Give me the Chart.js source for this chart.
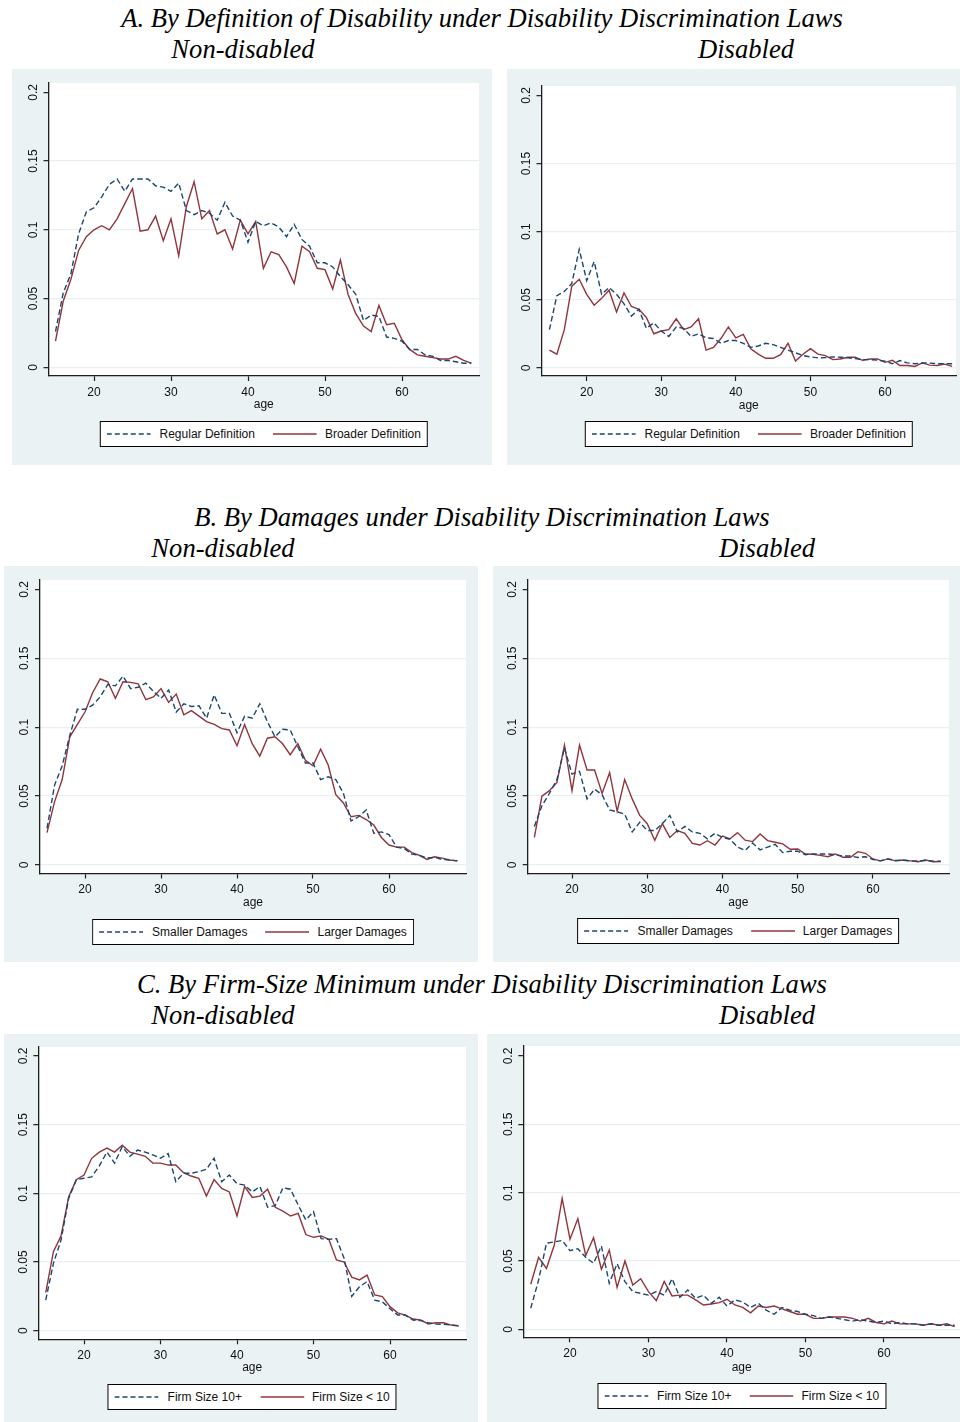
<!DOCTYPE html>
<html>
<head>
<meta charset="utf-8">
<script src="https://cdn.jsdelivr.net/npm/chart.js@4.4.1/dist/chart.umd.min.js"></script>
<style>
  html, body { margin: 0; padding: 0; background: #fff; }
  body { width: 960px; height: 1422px; position: relative; overflow: hidden; }
  .ttl { position: absolute; font-family: "Liberation Serif", "Times New Roman", serif; font-style: italic;
         font-size: 26.6px; line-height: 26px; white-space: nowrap; transform: translateX(-50%); color: #000; }
  canvas { position: absolute; }
  .leg { position: absolute; transform: translateX(-50%); border: 1.3px solid #000; background: #fff;
         display: flex; align-items: center; height: 26px; padding: 0 6px; box-sizing: border-box;
         font-family: "Liberation Sans", Arial, sans-serif; font-size: 12px; color: #111; white-space: nowrap; }
  .leg svg { display: block; }
  .leg .t1 { margin-left: 9px; }
  .leg .t2 { margin-left: 8px; }
  .leg .sp { width: 18px; }
</style>
</head>
<body>

<div class="ttl" style="left:482px; top:5px;">A. By Definition of Disability under Disability Discrimination Laws</div>
<div class="ttl" style="left:243px; top:36px;">Non-disabled</div>
<div class="ttl" style="left:746px; top:36px;">Disabled</div>

<div class="ttl" style="left:482px; top:504px;">B. By Damages under Disability Discrimination Laws</div>
<div class="ttl" style="left:223px; top:535px;">Non-disabled</div>
<div class="ttl" style="left:767px; top:535px;">Disabled</div>

<div class="ttl" style="left:482px; top:971px;">C. By Firm-Size Minimum under Disability Discrimination Laws</div>
<div class="ttl" style="left:223px; top:1002px;">Non-disabled</div>
<div class="ttl" style="left:767px; top:1002px;">Disabled</div>

<script>
// ---- age categories (x axis) ----
const ages = [15,16,17,18,19,20,21,22,23,24,25,26,27,28,29,30,31,32,33,34,35,36,37,38,39,40,41,42,
              43,44,45,46,47,48,49,50,51,52,53,54,55,56,57,58,59,60,61,62,63,64,65,66,67,68,69];

const xTicks = [20, 30, 40, 50, 60];
const yTicks = [0, 0.05, 0.1, 0.15, 0.2];
const yTickLabels = ['0', '0.05', '0.1', '0.15', '0.2'];

// ---- A. definition of disability ----
const aNonDisRegular = [0.026,0.054,0.068,0.097,0.113,0.116,0.124,0.133,0.137,0.128,
  0.137,0.137,0.137,0.132,0.131,0.128,0.134,0.114,0.111,0.114,
  0.112,0.107,0.120,0.110,0.107,0.091,0.106,0.103,0.105,0.102,
  0.095,0.104,0.093,0.088,0.076,0.076,0.073,0.066,0.060,0.053,
  0.034,0.038,0.037,0.022,0.021,0.019,0.013,0.013,0.009,0.008,
  0.005,0.005,0.004,0.003,0.003];
const aNonDisBroader = [0.019,0.048,0.064,0.085,0.095,0.100,0.103,0.100,0.108,0.119,
  0.130,0.099,0.100,0.110,0.092,0.108,0.081,0.117,0.135,0.108,
  0.114,0.097,0.100,0.086,0.107,0.097,0.106,0.072,0.084,0.082,
  0.073,0.061,0.088,0.084,0.072,0.071,0.057,0.078,0.053,0.039,
  0.030,0.026,0.045,0.031,0.032,0.020,0.013,0.009,0.008,0.007,
  0.006,0.006,0.008,0.005,0.003];
const aDisRegular = [0.028,0.053,0.056,0.062,0.087,0.064,0.078,0.054,0.059,0.054,
  0.047,0.038,0.043,0.029,0.033,0.027,0.023,0.030,0.029,0.023,
  0.025,0.022,0.0215,0.018,0.020,0.020,0.018,0.015,0.016,0.018,
  0.017,0.015,0.013,0.011,0.009,0.008,0.0073,0.0075,0.008,0.0078,
  0.0073,0.0068,0.006,0.006,0.0056,0.0048,0.003,0.0053,0.0036,0.003,
  0.0036,0.0034,0.003,0.003,0.003];
const aDisBroader = [0.013,0.010,0.028,0.060,0.065,0.054,0.046,0.051,0.057,0.041,
  0.055,0.045,0.043,0.037,0.025,0.027,0.028,0.036,0.028,0.030,
  0.036,0.013,0.015,0.0215,0.030,0.022,0.0245,0.014,0.010,0.007,
  0.007,0.0097,0.018,0.005,0.010,0.014,0.010,0.009,0.006,0.0065,
  0.0077,0.0077,0.0055,0.0065,0.0065,0.004,0.0055,0.0017,0.0017,0.001,
  0.0036,0.002,0.0017,0.0027,0.001];

// ---- B. damages ----
const bNonDisSmaller = [0.0266,0.058,0.072,0.094,0.113,0.113,0.116,0.122,0.131,0.130,
  0.137,0.128,0.129,0.132,0.126,0.121,0.127,0.111,0.117,0.115,
  0.1155,0.1065,0.1235,0.110,0.110,0.096,0.108,0.1065,0.117,0.104,
  0.093,0.0985,0.098,0.086,0.074,0.074,0.062,0.064,0.062,0.052,
  0.032,0.035,0.040,0.023,0.024,0.022,0.013,0.012,0.008,0.007,
  0.005,0.0056,0.004,0.0036,0.003];
const bNonDisLarger = [0.0235,0.046,0.062,0.093,0.102,0.111,0.125,0.135,0.133,0.121,
  0.133,0.1325,0.1315,0.120,0.122,0.128,0.118,0.124,0.109,0.112,
  0.108,0.104,0.102,0.099,0.098,0.0865,0.102,0.088,0.079,0.092,
  0.093,0.088,0.080,0.088,0.076,0.072,0.084,0.0726,0.051,0.045,
  0.035,0.036,0.033,0.029,0.020,0.0145,0.013,0.013,0.009,0.007,
  0.004,0.006,0.005,0.0036,0.003];
const bDisSmaller = [0.028,0.043,0.052,0.062,0.085,0.066,0.068,0.048,0.055,0.051,
  0.040,0.0386,0.037,0.024,0.031,0.025,0.025,0.030,0.036,0.024,
  0.028,0.024,0.023,0.019,0.023,0.020,0.0187,0.013,0.0105,0.016,
  0.011,0.013,0.015,0.009,0.010,0.010,0.0075,0.008,0.008,0.008,
  0.0075,0.0065,0.0065,0.0055,0.006,0.004,0.003,0.0044,0.0033,0.0035,
  0.003,0.003,0.0033,0.0027,0.0027];
const bDisLarger = [0.020,0.050,0.054,0.060,0.087,0.054,0.087,0.069,0.069,0.052,
  0.067,0.039,0.062,0.048,0.036,0.030,0.018,0.030,0.020,0.025,
  0.023,0.0157,0.0145,0.0176,0.0145,0.021,0.019,0.0235,0.018,0.017,
  0.0225,0.0177,0.0165,0.0153,0.0114,0.0116,0.008,0.0078,0.007,0.006,
  0.008,0.0056,0.0056,0.0097,0.0085,0.0044,0.003,0.0044,0.003,0.0036,
  0.003,0.0024,0.0036,0.0024,0.0025];

// ---- C. firm-size minimum ----
const cNonDis10Plus = [0.0223,0.049,0.066,0.0964,0.110,0.111,0.112,0.120,0.130,0.122,
  0.134,0.127,0.1315,0.130,0.128,0.1255,0.129,0.1085,0.1146,0.1146,
  0.1158,0.1175,0.1255,0.1085,0.1133,0.107,0.106,0.101,0.105,0.090,
  0.091,0.104,0.103,0.0915,0.0806,0.0867,0.067,0.0665,0.067,0.0527,
  0.025,0.032,0.0357,0.0223,0.021,0.016,0.0114,0.0114,0.0078,0.0073,
  0.0058,0.0049,0.0046,0.0041,0.0036];
const cNonDisUnder10 = [0.0277,0.0575,0.069,0.0976,0.110,0.1133,0.1255,0.130,0.133,0.130,
  0.135,0.130,0.1286,0.127,0.122,0.122,0.1206,0.1206,0.115,0.1126,
  0.111,0.098,0.110,0.1036,0.101,0.0835,0.105,0.097,0.098,0.103,
  0.0898,0.087,0.0835,0.0854,0.070,0.068,0.069,0.0665,0.0515,0.050,
  0.039,0.037,0.0405,0.026,0.0248,0.0175,0.013,0.0114,0.0085,0.0078,
  0.0049,0.0058,0.0058,0.0041,0.0034];
const cDis10Plus = [0.0154,0.036,0.063,0.064,0.065,0.0576,0.059,0.0527,0.0483,0.061,
  0.0337,0.048,0.0349,0.0276,0.0263,0.025,0.0276,0.025,0.037,0.0234,
  0.0288,0.0227,0.025,0.019,0.0234,0.017,0.0215,0.020,0.016,0.019,
  0.014,0.011,0.016,0.014,0.013,0.011,0.010,0.008,0.009,0.008,
  0.007,0.006,0.007,0.006,0.005,0.006,0.004,0.005,0.004,0.004,
  0.003,0.004,0.003,0.003,0.003];
const cDisUnder10 = [0.033,0.0527,0.0446,0.0617,0.0958,0.0659,0.081,0.054,0.067,0.044,
  0.058,0.0307,0.050,0.0324,0.037,0.0276,0.021,0.035,0.0244,0.025,
  0.025,0.0215,0.0178,0.0185,0.0195,0.022,0.0178,0.016,0.012,0.017,
  0.016,0.017,0.015,0.013,0.011,0.011,0.008,0.008,0.009,0.009,
  0.009,0.008,0.006,0.008,0.005,0.004,0.006,0.004,0.004,0.004,
  0.003,0.004,0.003,0.004,0.002];

// ---- styling ----
const PANEL_BG = 'rgb(234,242,243)';
const GRID = 'rgb(232,240,242)';
const NAVY = '#1A476F';
const MAROON = '#90353B';
const AXIS = '#1e1e1e';
const SANS = '"Liberation Sans", Arial, Helvetica, sans-serif';

// panel geometry: background box, white plot region, and pixel positions of reference ticks
const panels = [
  { bg: {x: 12,  y: 69,   w: 480, h: 396}, plot: {l: 48.5,  t: 83,   r: 479, b: 376},
    t20: 94,    t60: 402, y0: 367.3,  y02: 92.3,  ageY: 405,  legTop: 421,
    a: aNonDisRegular, b: aNonDisBroader, la: 'Regular Definition', lb: 'Broader Definition' },
  { bg: {x: 507, y: 69,   w: 453, h: 396}, plot: {l: 541.5, t: 86,   r: 956, b: 376},
    t20: 586.7, t60: 885, y0: 367.8,  y02: 95.5,  ageY: 406,  legTop: 421,
    a: aDisRegular, b: aDisBroader, la: 'Regular Definition', lb: 'Broader Definition' },
  { bg: {x: 4,   y: 566,  w: 474, h: 396}, plot: {l: 40,    t: 580,  r: 466, b: 873.5},
    t20: 85,    t60: 389, y0: 865,    y02: 589.4, ageY: 903,  legTop: 919,
    a: bNonDisSmaller, b: bNonDisLarger, la: 'Smaller Damages', lb: 'Larger Damages' },
  { bg: {x: 493, y: 566,  w: 467, h: 396}, plot: {l: 527.7, t: 580,  r: 949, b: 873.5},
    t20: 572,   t60: 873, y0: 865,    y02: 589.5, ageY: 903,  legTop: 918,
    a: bDisSmaller, b: bDisLarger, la: 'Smaller Damages', lb: 'Larger Damages' },
  { bg: {x: 4,   y: 1034, w: 474, h: 388}, plot: {l: 38.3,  t: 1047, r: 466, b: 1339.3},
    t20: 84,    t60: 390, y0: 1330.7, y02: 1056,  ageY: 1368, legTop: 1384,
    a: cNonDis10Plus, b: cNonDisUnder10, la: 'Firm Size 10+', lb: 'Firm Size < 10' },
  { bg: {x: 487, y: 1034, w: 473, h: 388}, plot: {l: 523.3, t: 1046, r: 960, b: 1337.3},
    t20: 570,   t60: 884, y0: 1329.3, y02: 1056,  ageY: 1368, legTop: 1383,
    a: cDis10Plus, b: cDisUnder10, la: 'Firm Size 10+', lb: 'Firm Size < 10' }
];

// paints the panel background, the white plot region and the rotated y labels
const panelPaint = {
  id: 'panelPaint',
  beforeDraw(chart) {
    const {ctx, chartArea: a, width, height} = chart;
    ctx.save();
    ctx.fillStyle = PANEL_BG;
    ctx.fillRect(0, 0, width, height);
    ctx.fillStyle = '#fff';
    ctx.fillRect(a.left, a.top, a.right - a.left, a.bottom - a.top);
    ctx.restore();
  },
  afterDraw(chart) {
    const ys = chart.scales.y;
    const ctx = chart.ctx;
    ctx.save();
    ctx.font = '12px ' + SANS;
    ctx.fillStyle = '#111';
    ctx.textAlign = 'center';
    ctx.textBaseline = 'middle';
    ys.ticks.forEach((t) => {
      const i = yTicks.indexOf(t.value);
      ctx.save();
      ctx.translate(chart.chartArea.left - 15, ys.getPixelForValue(t.value));
      ctx.rotate(-Math.PI / 2);
      ctx.fillText(yTickLabels[i], 0, 0);
      ctx.restore();
    });
    ctx.restore();
  }
};

const X_AXIS_H = 40;
const TICK_LEN = 5;

function lineSample(color, dash) {
  return '<svg width="44" height="4"><line x1="0" y1="2" x2="44" y2="2" stroke="' + color +
    '" stroke-width="1.4"' + (dash ? ' stroke-dasharray="5 3"' : '') + '/></svg>';
}

panels.forEach((p) => {
  const cv = document.createElement('canvas');
  cv.width = p.bg.w;
  cv.height = p.bg.h;
  cv.style.left = p.bg.x + 'px';
  cv.style.top = p.bg.y + 'px';
  cv.style.width = p.bg.w + 'px';
  cv.style.height = p.bg.h + 'px';
  document.body.appendChild(cv);

  // axis ranges that put the reference ticks at their pixel positions
  const sx = (p.t60 - p.t20) / 40;
  const xmin = 20 + (p.plot.l - p.t20) / sx;
  const xmax = 20 + (p.plot.r - p.t20) / sx;
  const sy = (p.y0 - p.y02) / 0.2;
  const ymin = -(p.plot.b - p.y0) / sy;
  const ymax = (p.y0 - p.plot.t) / sy;

  const yAxisW = p.plot.l - p.bg.x;
  const padTop = p.plot.t - p.bg.y;
  const padRight = (p.bg.x + p.bg.w) - p.plot.r;
  const padBottom = (p.bg.y + p.bg.h) - p.plot.b - X_AXIS_H;
  const titleLine = 12 * 1.2;
  const titlePadBottom = (p.plot.b - p.bg.y + X_AXIS_H) - titleLine / 2 - (p.ageY - p.bg.y);

  new Chart(cv, {
    type: 'line',
    data: {
      datasets: [
        { label: p.la, data: ages.map((a, i) => ({x: a, y: p.a[i]})),
          borderColor: NAVY, borderWidth: 1.4, borderDash: [5.5, 3], pointRadius: 0, tension: 0, fill: false },
        { label: p.lb, data: ages.map((a, i) => ({x: a, y: p.b[i]})),
          borderColor: MAROON, borderWidth: 1.4, pointRadius: 0, tension: 0, fill: false }
      ]
    },
    options: {
      responsive: false,
      animation: false,
      devicePixelRatio: 1,
      layout: { padding: { left: 0, top: padTop, right: padRight, bottom: padBottom } },
      plugins: { legend: { display: false }, tooltip: { enabled: false } },
      scales: {
        x: {
          type: 'linear', position: 'bottom', min: xmin, max: xmax,
          afterBuildTicks: (s) => { s.ticks = xTicks.map((v) => ({value: v})); },
          afterFit: (s) => { s.height = X_AXIS_H; },
          ticks: { padding: 4, color: '#111', font: { family: SANS, size: 12 }, maxRotation: 0, callback: (v) => String(v) },
          grid: { drawOnChartArea: false, drawTicks: true, tickLength: TICK_LEN, tickColor: AXIS, tickWidth: 1.2 },
          border: { display: true, color: AXIS, width: 1.3 },
          title: { display: true, text: 'age', color: '#111', font: { family: SANS, size: 12 },
                   padding: { top: 0, bottom: titlePadBottom } }
        },
        y: {
          type: 'linear', position: 'left', min: ymin, max: ymax,
          afterBuildTicks: (s) => { s.ticks = yTicks.map((v) => ({value: v})); },
          afterFit: (s) => { s.width = yAxisW; },
          ticks: { display: false },
          grid: {
            drawOnChartArea: true, drawTicks: true, tickLength: TICK_LEN,
            color: (c) => (c.tick && c.tick.value >= 0.2 ? 'rgba(0,0,0,0)' : GRID),
            lineWidth: 1.3, tickColor: AXIS, tickWidth: 1.2
          },
          border: { display: true, color: AXIS, width: 1.3 }
        }
      }
    },
    plugins: [panelPaint]
  });

  const leg = document.createElement('div');
  leg.className = 'leg';
  leg.style.left = ((p.plot.l + p.plot.r) / 2) + 'px';
  leg.style.top = p.legTop + 'px';
  leg.innerHTML = lineSample(NAVY, true) + '<span class="t1">' + p.la + '</span><span class="sp"></span>' +
    lineSample(MAROON, false) + '<span class="t2">' + p.lb + '</span>';
  document.body.appendChild(leg);
});
</script>
</body>
</html>
